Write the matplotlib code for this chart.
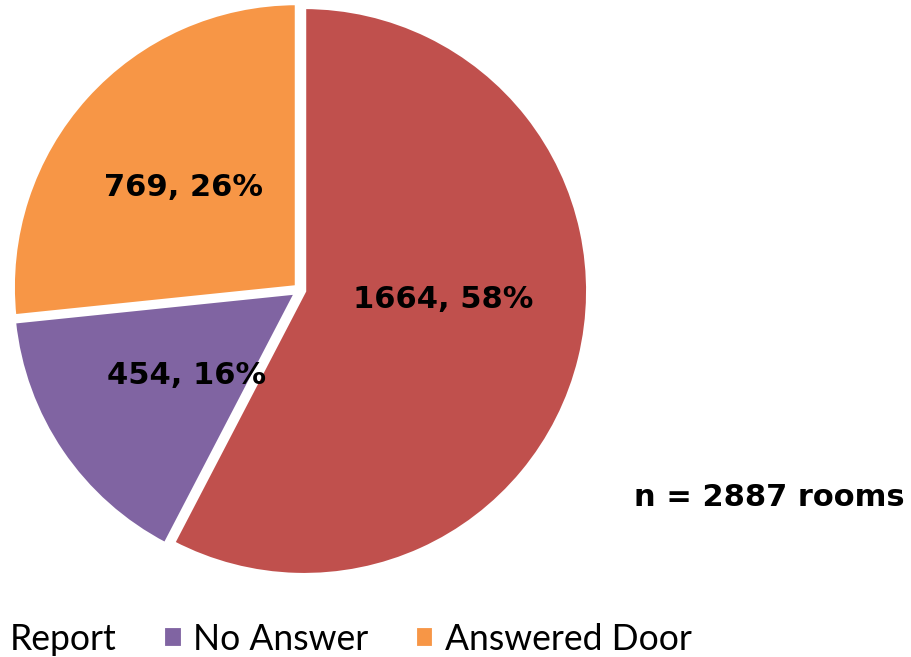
import matplotlib.pyplot as plt

labels = ['Report', 'No Answer', 'Answered Door']
counts = [1664, 454, 769]
percents = [58, 16, 26]
colors = ['#C0504D', '#8064A2', '#F79646']

fig = plt.figure(figsize=(9.12, 6.57), dpi=100)
W, H = 912, 657
cx, cy, r = 300, 290, 284
ax = fig.add_axes([(cx - r) / W, (H - cy - r) / H, 2 * r / W, 2 * r / H])

wedges, texts = ax.pie(
    counts, colors=colors, startangle=90, counterclock=False,
    explode=[0.015, 0.015, 0.015],
    wedgeprops=dict(edgecolor='white', linewidth=3))
ax.set_xlim(-1, 1)
ax.set_ylim(-1, 1)
ax.set_aspect('equal')
for w in wedges:
    w.set_clip_on(False)

# label spots picked to sit where the original has them
label_pos = [(0.505, -0.035), (-0.40, -0.30), (-0.41, 0.36)]
for n, p, pos in zip(counts, percents, label_pos):
    ax.text(pos[0], pos[1], '%d, %d%%' % (n, p), ha='center', va='center',
            fontsize=22, fontweight='bold', color='black')

fig.text(905 / W, 1 - 497 / H, 'n = 2887 rooms', ha='right', va='center',
         fontsize=22, fontweight='bold')

leg = fig.legend(wedges, labels, loc='center left',
                 bbox_to_anchor=(-52 / W, 1 - 639 / H), ncol=3, frameon=False,
                 handlelength=0.55, handleheight=0.55,
                 handletextpad=0.3, columnspacing=1.3,
                 prop=dict(family='Lato', size=25.6))

fig.savefig('out.png', dpi=100)
